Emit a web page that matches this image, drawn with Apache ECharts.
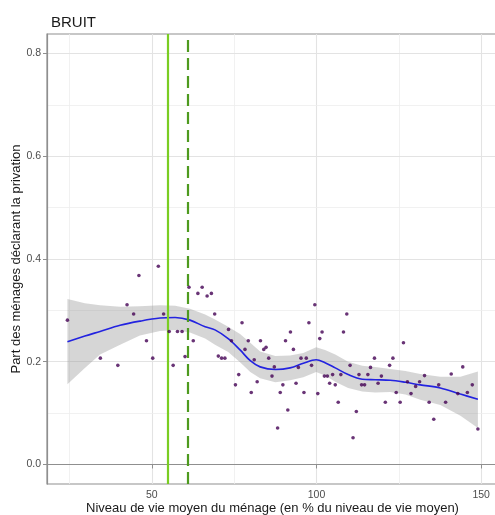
<!DOCTYPE html>
<html><head><meta charset="utf-8">
<script src="https://cdn.jsdelivr.net/npm/echarts@6/dist/echarts.min.js"></script>
<style>html,body{margin:0;padding:0;background:#fff}#c{width:495px;height:515px}</style>
</head><body><div id="c"></div>
<script>
var ptsX = [24.4,34.4,39.7,42.5,44.5,46.1,48.4,50.3,52.0,53.6,55.3,56.5,57.8,59.2,60.1,61.3,62.6,64.0,65.3,66.8,68.1,69.1,70.2,71.2,72.2,73.3,74.2,75.4,76.4,77.4,78.3,79.3,80.2,81.1,82.0,83.0,84.0,84.7,85.5,86.5,87.2,88.2,89.0,89.8,90.6,91.3,92.1,93.0,93.8,94.5,95.3,96.2,96.9,97.7,98.5,99.5,100.4,101.0,101.7,102.4,103.3,104.0,104.9,105.7,106.6,107.4,108.2,109.2,110.2,111.1,112.1,112.9,113.7,114.6,115.6,116.4,117.6,118.7,119.7,120.9,122.2,123.2,124.2,125.4,126.4,127.6,128.7,130.1,131.3,132.8,134.2,135.6,137.1,139.2,140.9,142.9,144.4,145.8,147.3,149.0];
var ptsY = [0.281,0.207,0.193,0.311,0.293,0.368,0.241,0.207,0.386,0.293,0.259,0.193,0.259,0.259,0.210,0.345,0.241,0.333,0.345,0.328,0.333,0.293,0.211,0.207,0.207,0.263,0.241,0.155,0.175,0.276,0.224,0.241,0.140,0.204,0.161,0.241,0.224,0.228,0.207,0.172,0.190,0.071,0.140,0.155,0.241,0.106,0.258,0.224,0.158,0.189,0.207,0.140,0.207,0.276,0.193,0.311,0.138,0.245,0.258,0.172,0.172,0.158,0.175,0.155,0.121,0.175,0.258,0.293,0.193,0.052,0.103,0.175,0.155,0.155,0.175,0.189,0.207,0.158,0.172,0.121,0.193,0.207,0.140,0.121,0.237,0.161,0.138,0.152,0.161,0.173,0.121,0.088,0.155,0.121,0.176,0.138,0.190,0.140,0.155,0.069];

var smoothX = [24.4,29.7,34.3,40.4,46.4,52.5,57.1,61.6,66.2,69.2,73.2,76.8,79.9,82.9,87.5,92.0,96.0,99.9,102.6,105.7,109.6,113.9,117.8,122.4,127.0,131.5,137.6,143.7,149.0];
var smoothY = [0.239,0.250,0.259,0.271,0.279,0.285,0.286,0.281,0.268,0.262,0.245,0.223,0.202,0.190,0.185,0.188,0.197,0.204,0.198,0.188,0.175,0.166,0.165,0.164,0.160,0.155,0.149,0.137,0.127];
var bandUpper = [0.322,0.314,0.310,0.307,0.308,0.310,0.309,0.303,0.292,0.282,0.268,0.254,0.237,0.220,0.211,0.212,0.217,0.228,0.223,0.214,0.200,0.192,0.190,0.186,0.182,0.176,0.171,0.171,0.181];
var bandLower = [0.156,0.188,0.214,0.233,0.251,0.260,0.262,0.257,0.245,0.233,0.219,0.199,0.180,0.168,0.160,0.164,0.170,0.180,0.173,0.161,0.149,0.142,0.140,0.141,0.136,0.126,0.116,0.095,0.071];

var vlineSolid = 55.0;
var vlineDashed = 60.9;

var xTickLabels = [50, 100, 150];
var xMinorGrid = [25, 75, 125];
var yTickLabels = [0, 0.2, 0.4, 0.6, 0.8];
var yMinorGrid = [0.1, 0.3, 0.5, 0.7];

var titleText = 'BRUIT';
var xTitle = 'Niveau de vie moyen du ménage (en % du niveau de vie moyen)';
var yTitle = 'Part des ménages déclarant la privation';

var FONT = '"Liberation Sans", Arial, sans-serif';
var chart = echarts.init(document.getElementById('c'), null, {renderer: 'canvas'});

var scatterData = ptsX.map(function (x, i) { return [x, ptsY[i]]; });
var lineData = smoothX.map(function (x, i) { return [x, smoothY[i]]; });

var gridLines = [];
xTickLabels.forEach(function (v) { gridLines.push({xAxis: v, lineStyle: {color: '#e3e3e3', width: 1.1, type: 'solid'}}); });
xMinorGrid.forEach(function (v) { gridLines.push({xAxis: v, lineStyle: {color: '#eeeeee', width: 0.8, type: 'solid'}}); });
yTickLabels.forEach(function (v) { gridLines.push({yAxis: v, lineStyle: {color: '#e3e3e3', width: 1.1, type: 'solid'}}); });
yMinorGrid.forEach(function (v) { gridLines.push({yAxis: v, lineStyle: {color: '#eeeeee', width: 0.8, type: 'solid'}}); });

var option = {
  animation: false,
  backgroundColor: '#ffffff',
  title: {
    text: titleText, left: 46, top: 10,
    textStyle: {fontFamily: FONT, fontSize: 15, fontWeight: 'normal', color: '#1a1a1a'}
  },
  grid: {left: 47, top: 34, right: -3, bottom: 31, outerBoundsMode: 'none', containLabel: false,
    show: true, borderColor: '#8f8f8f', borderWidth: 1.2, backgroundColor: 'transparent'},
  xAxis: {
    type: 'value', min: 18.2, max: 155.1,
    name: xTitle, nameLocation: 'middle', nameGap: 18, nameMoveOverlap: false,
    nameTextStyle: {fontFamily: FONT, fontSize: 13, color: '#1a1a1a'},
    axisLine: {show: true, lineStyle: {color: '#8f8f8f', width: 1.2}},
    axisTick: {show: true, length: 4, customValues: xTickLabels, lineStyle: {color: '#8f8f8f'}},
    axisLabel: {customValues: xTickLabels, margin: 6, fontFamily: FONT, fontSize: 10.5, color: '#4d4d4d'},
    splitLine: {show: false}
  },
  yAxis: {
    type: 'value', min: -0.038, max: 0.838,
    name: yTitle, nameLocation: 'middle', nameGap: 24.5, nameRotate: 90, nameMoveOverlap: false,
    nameTextStyle: {fontFamily: FONT, fontSize: 13, color: '#1a1a1a'},
    axisLine: {show: true, lineStyle: {color: '#8f8f8f', width: 1.2}},
    axisTick: {show: true, length: 4, customValues: yTickLabels, lineStyle: {color: '#8f8f8f'}},
    axisLabel: {customValues: yTickLabels, margin: 6, fontFamily: FONT, fontSize: 10.5, color: '#4d4d4d',
      formatter: function (v) { return v.toFixed(1); }},
    splitLine: {show: false}
  },
  series: [
    {
      type: 'line', data: [], silent: true, z: 0,
      markLine: {silent: true, symbol: ['none', 'none'], label: {show: false}, z: 0, animation: false, data: gridLines}
    },
    {
      type: 'custom', z: 2, silent: true,
      data: [[smoothX[0], smoothY[0]]],
      renderItem: function (params, api) {
        var pts = [];
        for (var i = 0; i < smoothX.length; i++) pts.push(api.coord([smoothX[i], bandUpper[i]]));
        for (var j = smoothX.length - 1; j >= 0; j--) pts.push(api.coord([smoothX[j], bandLower[j]]));
        return {type: 'polygon', shape: {points: pts}, style: {fill: 'rgba(153,153,153,0.4)'}};
      }
    },
    {
      type: 'line', data: lineData, z: 3, smooth: 0.35, showSymbol: false, silent: true,
      lineStyle: {color: '#2323e0', width: 1.6}
    },
    {
      type: 'line', data: [], z: 4, silent: true,
      markLine: {silent: true, symbol: ['none', 'none'], label: {show: false}, z: 4, animation: false,
        data: [
          {xAxis: vlineSolid, lineStyle: {color: '#7acd22', width: 2.2, type: 'solid'}},
          {xAxis: vlineDashed, lineStyle: {color: '#4e9a1e', width: 2.2, type: [12, 6]}}
        ]}
    },
    {
      type: 'scatter', data: scatterData, z: 5, symbolSize: 3.6, silent: true,
      itemStyle: {color: '#440154'}
    }
  ]
};
chart.setOption(option);
</script></body></html>
